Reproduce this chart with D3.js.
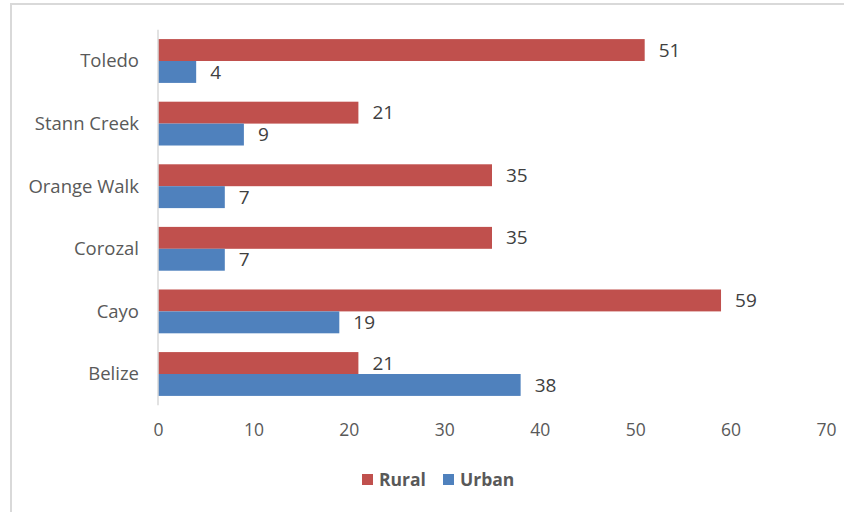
<!DOCTYPE html>
<html><head><meta charset="utf-8">
<script src="https://cdn.jsdelivr.net/npm/d3@7"></script>
<style>body{margin:0;background:#fff}svg{display:block}</style>
</head><body>
<svg id="c" width="844" height="512"></svg>
<script>
const categories = ["Toledo","Stann Creek","Orange Walk","Corozal","Cayo","Belize"];
const rural = [51,21,35,35,59,21];
const urban = [4,9,7,7,19,38];
const seriesNames = ["Rural","Urban"];
const colors = ["#C0504D","#4F81BD"];
const xTicks = [0,10,20,30,40,50,60,70];

const svg = d3.select("#c");
const font = "'Open Sans', sans-serif";
// frame
svg.append("rect").attr("x",11).attr("y",4).attr("width",900).attr("height",600)
  .attr("fill","#fff").attr("stroke","#d9d9d9").attr("stroke-width",2);

const x = d3.scaleLinear().domain([0,70]).range([158,826]);
const y = d3.scaleBand().domain(categories).range([29.7,405.3]).paddingInner(0.3).paddingOuter(0.15);
const sub = d3.scaleBand().domain(seriesNames).range([0,y.bandwidth()]);

const data = seriesNames.map((s,i)=>({name:s,color:colors[i],vals:(i===0?rural:urban)}));

const g = svg.append("g");
data.forEach(s=>{
  g.selectAll(null).data(categories).enter().append("rect")
    .attr("x",x(0)).attr("y",(c)=>y(c)+sub(s.name))
    .attr("width",(c,i)=>x(s.vals[i])-x(0)).attr("height",sub.bandwidth())
    .attr("fill",s.color);
  g.selectAll(null).data(categories).enter().append("text")
    .attr("x",(c,i)=>x(s.vals[i])+14).attr("y",(c)=>y(c)+sub(s.name)+sub.bandwidth()/2)
    .attr("dy","0.35em").attr("font-family",font).attr("font-size",19).attr("fill","#404040")
    .text((c,i)=>s.vals[i]);
});

// y axis line
svg.append("line").attr("x1",x(0)).attr("x2",x(0)).attr("y1",29.7).attr("y2",405.3)
  .attr("stroke","#d9d9d9").attr("stroke-width",1.5);
// category labels
svg.selectAll(null).data(categories).enter().append("text")
  .attr("x",139).attr("y",c=>y(c)+y.bandwidth()/2).attr("dy","0.35em")
  .attr("text-anchor","end").attr("font-family",font).attr("font-size",18.5).attr("fill","#595959")
  .text(c=>c);
// x tick labels
const xa = svg.append("g").attr("transform","translate(0,416)")
  .call(d3.axisBottom(x).tickValues(xTicks).tickSize(0).tickPadding(8));
xa.select(".domain").remove();
xa.selectAll("text").attr("font-family",font).attr("font-size",17.5).attr("fill","#595959");

// legend
const leg = svg.append("g");
const legX = [362,443];
data.forEach((s,i)=>{
  leg.append("rect").attr("x",legX[i]).attr("y",474).attr("width",11).attr("height",11).attr("fill",s.color);
  leg.append("text").attr("x",legX[i]+17).attr("y",480).attr("dy","0.35em")
    .attr("font-family",font).attr("font-size",17.5).attr("font-weight","bold").attr("fill","#595959").text(s.name);
});
</script>
</body></html>
